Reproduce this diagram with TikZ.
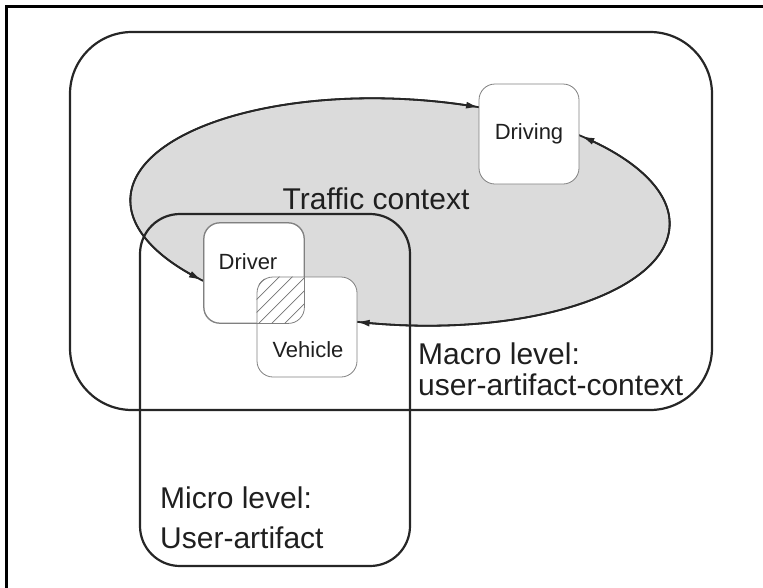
\documentclass[tikz,border=0pt]{standalone}
\usepackage{fontspec}
\setmainfont{Liberation Sans}
\usetikzlibrary{arrows.meta}
\begin{document}
\begin{tikzpicture}[x=1pt,y=-1pt,
  frame/.style={line width=3pt},
  levelbox/.style={draw=black!85, line width=2.2pt},
  ctx/.style={fill=black!14, draw=black!85, line width=1.8pt},
  flow/.style={draw=black!85, line width=1.8pt, {Latex[length=13pt,width=7pt]}-{Latex[length=13pt,width=7pt]}},
  entity/.style={draw=black!50, line width=0.8pt, fill=white, rounded corners=16pt, minimum width=100pt, minimum height=100pt, inner sep=0pt},
  entityedge/.style={draw=black!50, line width=0.8pt, rounded corners=16pt},
  hatch/.style={draw=black!55, line width=0.7pt},
  bigtext/.style={font=\fontsize{30}{33}\selectfont, text=black!88, inner sep=0pt},
  smalltext/.style={font=\fontsize{22}{26}\selectfont, text=black!88, inner sep=0pt}]
\useasboundingbox (0,0) rectangle (763,587);
\draw[frame] (6,600) -- (6,6) -- (770,6);
% macro level
\draw[levelbox, rounded corners=62pt] (70,32) rectangle (712,410);
% traffic context ellipse
\begin{scope}[shift={(400,212)}, rotate=-3]
  \path[ctx] (0,0) ellipse [x radius=270pt, y radius=113pt];
\end{scope}
% micro level
\draw[levelbox, rounded corners=40pt] (140,214) rectangle (410,566);
% flows along the ellipse
\begin{scope}[shift={(400,212)}, rotate=-3]
  \draw[flow] plot[domain=-74.2:-224, samples=90] ({270*cos(\x)},{113*sin(\x)});
  \draw[flow] plot[domain=-49:98, samples=90] ({270*cos(\x)},{113*sin(\x)});
\end{scope}
% entities
\node[entity, font=\fontsize{22}{26}\selectfont, text=black!88] (driving) at (529,134) {Driving};
\node[entity] (driver) at (254,273) {};
\node[entity] (vehicle) at (307,327) {};
\draw[entityedge] (driver.north west) rectangle (driver.south east);
\begin{scope}
  \clip[rounded corners=16pt] (driver.north west) rectangle (driver.south east);
  \clip[rounded corners=16pt] (vehicle.north west) rectangle (vehicle.south east);
  \foreach \c in {530,543,...,640} {
    \draw[hatch] (\c-400,400) -- (\c-200,200);
  }
\end{scope}
\node[smalltext] (driverlabel) at (248,262) {Driver};
\node[smalltext] (vehiclelabel) at (308,350) {Vehicle};
% texts
\node[bigtext, anchor=base] (traffic) at (376,209) {Traffic context};
\node[bigtext, anchor=base west] (macro1) at (418,364) {Macro level:};
\node[bigtext, anchor=base west] (macro2) at (418,395) {user-artifact-context};
\node[bigtext, anchor=base west] (micro1) at (160,508) {Micro level:};
\node[bigtext, anchor=base west] (micro2) at (160,548) {User-artifact};
\end{tikzpicture}
\end{document}
